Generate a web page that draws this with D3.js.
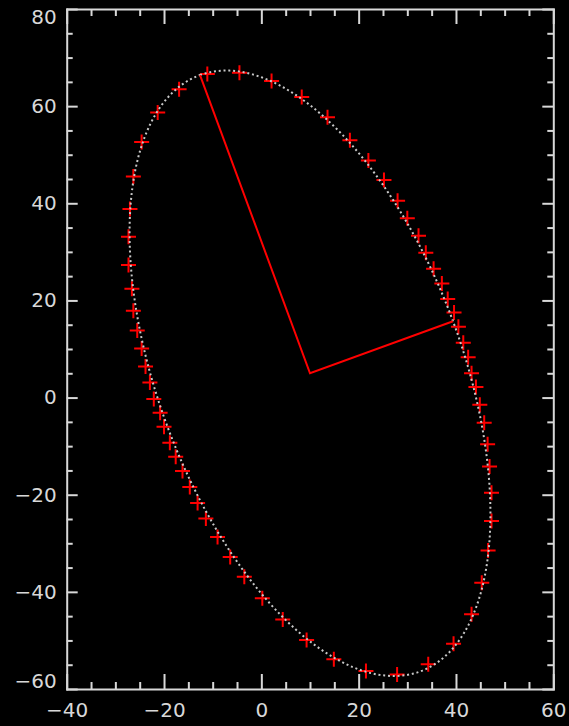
<!DOCTYPE html>
<html>
<head>
<meta charset="utf-8">
<script src="https://cdn.jsdelivr.net/npm/d3@7"></script>
<style>
  body { margin: 0; background: #000; }
  svg { display: block; }
</style>
</head>
<body>
<div id="target"></div>
<script>
// measured points (red plus signs)
let xValues = [
  -4.5, -11.1, -16.9, -21.3, -24.6, -26.3, -27.0, -27.3, -27.3, -26.6,
  -26.3, -25.5, -24.6, -23.8, -22.9, -22.1, -20.8, -20.0, -18.8, -17.6,
  -16.2, -14.7, -13.1, -11.4, -9.0, -6.4, -3.5, 0.2, 4.4, 9.3,
  14.9, 21.5, 27.9, 34.3, 39.5, 43.2, 45.3, 46.6, 47.3, 47.3,
  46.9, 46.5, 45.8, 44.9, 44.1, 43.2, 42.5, 41.5, 40.5, 39.6,
  38.3, 37.1, 35.4, 33.8, 32.3, 30.0, 28.0, 25.2, 22.0, 18.2,
  13.6, 8.3, 2.1
];
let yValues = [
  66.9, 66.6, 63.5, 58.7, 52.6, 45.5, 38.8, 33.1, 27.3, 22.4,
  17.9, 13.8, 10.1, 6.4, 3.1, -0.3, -3.1, -6.0, -9.3, -12.2,
  -15.1, -18.4, -21.7, -24.9, -28.7, -32.8, -36.9, -41.3, -45.7, -49.9,
  -53.9, -56.3, -57.0, -54.9, -50.7, -44.6, -38.1, -31.5, -25.4, -19.6,
  -14.2, -9.6, -5.2, -1.5, 2.2, 5.0, 8.3, 11.3, 14.6, 17.5,
  20.3, 23.5, 26.5, 29.8, 33.3, 36.9, 40.5, 44.8, 48.8, 53.0,
  57.7, 61.9, 65.2
];

// fitted ellipse: centre and the ends of its two semi-axes
let fitCenter = [10, 5];
let majorEnd = [-12.6, 66.4];
let minorEnd = [39.4, 15.7];

let xMajor = [-40, -20, 0, 20, 40, 60];
let yMajor = [-60, -40, -20, 0, 20, 40, 60, 80];
let xMinor = d3.range(-40, 61, 5).filter(d => !xMajor.includes(d));
let yMinor = d3.range(-60, 81, 5).filter(d => !yMajor.includes(d));

let width = 569,
  height = 726,
  plotLeft = 66.7,
  plotRight = 553.3,
  plotTop = 9,
  plotBottom = 689,
  fg = "#d8d8d8";

let x = d3.scaleLinear().domain([-40, 60]).range([plotLeft, plotRight]);
let y = d3.scaleLinear().domain([-60, 80]).range([plotBottom, plotTop]);

let svg = d3.select("#target").append("svg")
  .attr("width", width)
  .attr("height", height)
  .style("background", "#000");

let fmt = d => (d < 0 ? "\u2212" + Math.abs(d) : "" + d);

function styleAxis(g) {
  g.select(".domain").attr("stroke", fg).attr("stroke-width", 2).attr("stroke-linecap", "square");
  g.selectAll(".tick line").attr("stroke", fg).attr("stroke-width", 2);
  g.selectAll(".tick text")
    .attr("fill", fg)
    .style("font-family", "'DejaVu Sans', sans-serif")
    .style("font-size", "20px");
}

// labelled axes
svg.append("g")
  .attr("transform", "translate(0," + plotBottom + ")")
  .call(d3.axisBottom(x).tickValues(xMajor).tickSizeInner(-15).tickSizeOuter(0).tickPadding(14).tickFormat(fmt))
  .call(styleAxis);

svg.append("g")
  .attr("transform", "translate(" + plotLeft + ",0)")
  .call(d3.axisLeft(y).tickValues(yMajor).tickSizeInner(-11).tickSizeOuter(0).tickPadding(10).tickFormat(fmt))
  .call(styleAxis)
  .selectAll(".tick text")
  .attr("transform", d => d === 80 ? "translate(0,8)" : d === -60 ? "translate(0,-8)" : null);

// mirrored axes
svg.append("g")
  .attr("transform", "translate(0," + plotTop + ")")
  .call(d3.axisTop(x).tickValues(xMajor).tickSizeInner(-15).tickSizeOuter(0).tickFormat(""))
  .call(styleAxis);

svg.append("g")
  .attr("transform", "translate(" + plotRight + ",0)")
  .call(d3.axisRight(y).tickValues(yMajor).tickSizeInner(-11).tickSizeOuter(0).tickFormat(""))
  .call(styleAxis);

// minor ticks
[
  [d3.axisBottom(x).tickValues(xMinor).tickSize(-7), "translate(0," + plotBottom + ")"],
  [d3.axisTop(x).tickValues(xMinor).tickSize(-7), "translate(0," + plotTop + ")"],
  [d3.axisLeft(y).tickValues(yMinor).tickSize(-6), "translate(" + plotLeft + ",0)"],
  [d3.axisRight(y).tickValues(yMinor).tickSize(-6), "translate(" + plotRight + ",0)"]
].forEach(([ax, tr]) => {
  svg.append("g")
    .attr("transform", tr)
    .call(ax.tickFormat(""))
    .call(styleAxis)
    .select(".domain").remove();
});

let points = xValues.map((d, i) => [d, yValues[i]]);

// plus markers
svg.append("g")
  .selectAll("path")
  .data(points)
  .enter()
  .append("path")
  .attr("transform", d => "translate(" + x(d[0]) + "," + y(d[1]) + ")")
  .attr("d", "M-7.5,0H7.5M0,-7.5V7.5")
  .attr("stroke", "#ff0000")
  .attr("stroke-width", 2)
  .attr("fill", "none");

// fitted ellipse, dotted
let ma = [majorEnd[0] - fitCenter[0], majorEnd[1] - fitCenter[1]];
let mi = [minorEnd[0] - fitCenter[0], minorEnd[1] - fitCenter[1]];
let ellipseAt = t => [
  fitCenter[0] + ma[0] * Math.cos(t) + mi[0] * Math.sin(t),
  fitCenter[1] + ma[1] * Math.cos(t) + mi[1] * Math.sin(t)
];

let line = d3.line()
  .x(d => x(d[0]))
  .y(d => y(d[1]));

svg.append("path")
  .datum(d3.range(0, 361).map(a => ellipseAt(a * Math.PI / 180)))
  .attr("d", line)
  .attr("fill", "none")
  .attr("stroke", "#c8c8c8")
  .attr("stroke-width", 2)
  .attr("stroke-dasharray", "2,2.8");

// semi-axes
svg.append("path")
  .datum([majorEnd, fitCenter, minorEnd])
  .attr("d", line)
  .attr("fill", "none")
  .attr("stroke", "#ff0000")
  .attr("stroke-width", 2);
</script>
</body>
</html>
